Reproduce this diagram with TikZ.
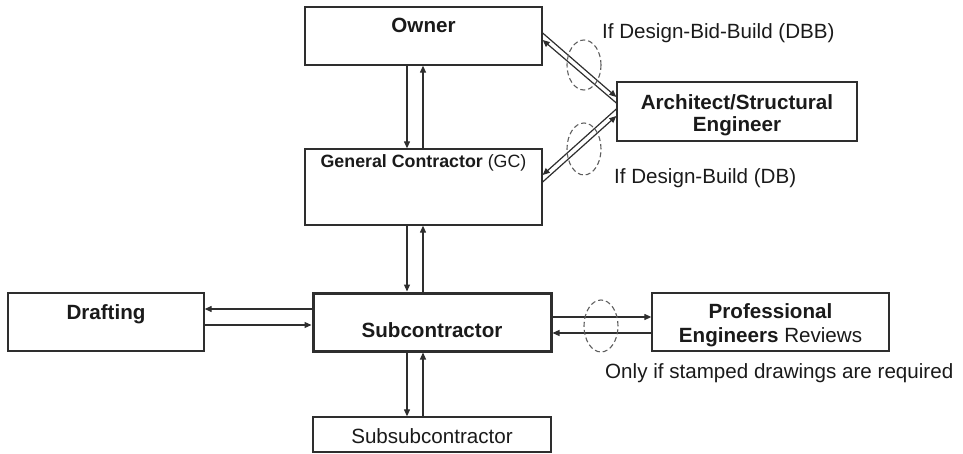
\documentclass[tikz,border=0pt]{standalone}
\usepackage{fontspec}
\setmainfont{Liberation Sans}
\usetikzlibrary{calc,arrows.meta}
\definecolor{edge}{HTML}{2E2E2E}
\definecolor{ink}{HTML}{1A1A1A}
\definecolor{dashgray}{HTML}{5E5E5E}
\begin{document}
\begin{tikzpicture}[x=1pt,y=-1pt,
  box/.style={draw=edge, line width=1.3pt, fill=white, inner sep=0pt},
  lbl/.style={text=ink, inner sep=0pt, font=\fontsize{20.6}{22}\selectfont},
  blbl/.style={text=ink, inner sep=0pt, font=\fontsize{20.6}{22}\selectfont\bfseries},
  arr/.style={draw=edge, line width=1.2pt, -{Triangle[length=7pt,width=6pt]}},
  loopmark/.style={draw=dashgray, line width=1.1pt, dash pattern=on 5pt off 3pt}]
  \useasboundingbox (0,0) rectangle (963,454);

  % boxes
  \node[box, minimum width=237, minimum height=58] (owner)   at (423.5,36)  {};
  \node[box, minimum width=237, minimum height=76] (gc)      at (423.5,187) {};
  \node[box, minimum width=240, minimum height=59] (arch)    at (737,111.5) {};
  \node[box, minimum width=196, minimum height=58] (draft)   at (106,322)   {};
  \node[box, minimum width=238, minimum height=58, line width=3pt] (sub) at (432,322) {};
  \node[box, minimum width=238, minimum height=35] (subsub)  at (432,434.5) {};
  \node[box, minimum width=237, minimum height=58] (pe)      at (770.5,322) {};

  % box labels
  \node[blbl, anchor=base] (ownerT) at ($(owner.north)+(0,26)$) {Owner};
  \node[lbl, anchor=base, font=\fontsize{17.8}{20}\selectfont] (gcT)
       at ($(gc.north)+(0,19)$) {\textbf{General Contractor} (GC)};
  \node[blbl, anchor=base] (archT1) at ($(arch.north)+(0,28)$) {Architect/Structural};
  \node[blbl, anchor=base] (archT2) at ($(arch.north)+(0,50)$) {Engineer};
  \node[blbl, anchor=base] (draftT) at ($(draft.north)+(0,27)$) {Drafting};
  \node[blbl, anchor=base] (subT)   at ($(sub.north)+(0,46)$) {Subcontractor};
  \node[lbl, anchor=base]  (subsubT) at ($(subsub.north)+(0,27)$) {Subsubcontractor};
  \node[blbl, anchor=base] (peT1)   at ($(pe.north)+(0,26)$) {Professional};
  \node[lbl, anchor=base]  (peT2)   at ($(pe.north)+(0,50)$) {\textbf{Engineers} Reviews};

  % owner <-> general contractor
  \draw[arr] ($(owner.south)+(-16.5,0)$) -- ($(gc.north)+(-16.5,0)$);
  \draw[arr] ($(gc.north)+(-0.5,0)$) -- ($(owner.south)+(-0.5,0)$);

  % general contractor <-> subcontractor
  \draw[arr] ($(gc.south)+(-16.5,0)$) -- ($(sub.north)+(-25,0)$);
  \draw[arr] ($(sub.north)+(-9,0)$) -- ($(gc.south)+(-0.5,0)$);

  % subcontractor <-> subsubcontractor
  \draw[arr] ($(sub.south)+(-25,0)$) -- ($(subsub.north)+(-25,0)$);
  \draw[arr] ($(subsub.north)+(-9,0)$) -- ($(sub.south)+(-9,0)$);

  % subcontractor <-> drafting
  \draw[arr] ($(sub.west)+(0,-13)$) -- ($(draft.east)+(0,-13)$);
  \draw[arr] ($(draft.east)+(0,3)$) -- ($(sub.west)+(0,3)$);

  % subcontractor <-> professional engineers
  \draw[arr] ($(sub.east)+(0,-5)$) -- ($(pe.west)+(0,-5)$);
  \draw[arr] ($(pe.west)+(0,11)$) -- ($(sub.east)+(0,11)$);

  % owner <-> architect (design-bid-build)
  \draw[arr] ($(owner.east)+(0,-3)$) -- ($(arch.west)+(0,-14.5)$);
  \draw[arr] ($(arch.west)+(0,-8.5)$) -- ($(owner.east)+(0,4)$);

  % general contractor <-> architect (design-build)
  \draw[arr] ($(arch.west)+(0,-2.5)$) -- ($(gc.east)+(0,-12)$);
  \draw[arr] ($(gc.east)+(0,-5)$) -- ($(arch.west)+(0,4.5)$);

  % dashed loops marking the optional links
  \draw[loopmark] (584,65)  ellipse [x radius=17pt, y radius=25pt];
  \draw[loopmark] (584,149) ellipse [x radius=17pt, y radius=26pt];
  \draw[loopmark] (601,326) ellipse [x radius=17pt, y radius=26pt];

  % notes
  \node[lbl, anchor=base west] (dbbT)  at (602,39)  {If Design-Bid-Build (DBB)};
  \node[lbl, anchor=base west] (dbT)   at (614,184) {If Design-Build (DB)};
  \node[lbl, anchor=base west] (stampT) at (605,378) {Only if stamped drawings are required};
\end{tikzpicture}
\end{document}
